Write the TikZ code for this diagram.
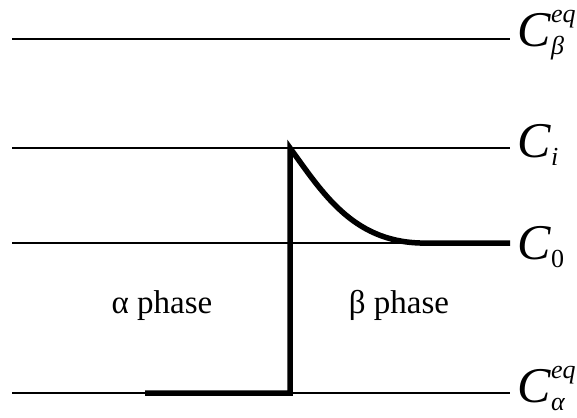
\documentclass[tikz,border=0pt]{standalone}
\usepackage{fontspec}
\setmainfont{Liberation Serif}
\usepackage{tikz}
\usetikzlibrary{positioning, calc}

\newcommand{\scrsize}{\fontsize{26}{28}\selectfont}
% C with subscript (#1) and superscript (#2)
\newcommand{\conclbl}[2]{\textit{C}\rlap{\raisebox{24pt}{\scrsize #2}}\raisebox{-8pt}{\scrsize #1}}

\tikzset{
  level/.style={line width=1.8pt},
  profile/.style={line width=5.5pt, line join=miter},
  conc/.style={anchor=base west, inner sep=0pt, font=\fontsize{50}{54}\selectfont},
  phasetext/.style={anchor=base, inner sep=0pt, font=\fontsize{33}{36}\selectfont}
}

\begin{document}
\begin{tikzpicture}[x=1pt, y=-1pt]
  \useasboundingbox (0,0) rectangle (577,417);

  % concentration levels
  \coordinate (Bs) at (12,39);
  \coordinate (Be) at (510,39);
  \coordinate (Is) at (12,148);
  \coordinate (Ie) at (510,148);
  \coordinate (Zs) at (12,243);
  \coordinate (Ze) at (510,243);
  \coordinate (As) at (12,393);
  \coordinate (Ae) at (510,393);

  \draw[level] (Bs) -- (Be);
  \draw[level] (Is) -- (Ie);
  \draw[level] (Zs) -- (Ze);
  \draw[level] (As) -- (Ae);

  \node[conc] (Cbeta) at ($(Be)+(7,8)$) {\conclbl{\textit{β}}{\textit{eq}}};
  \node[conc] (Ci) at ($(Ie)+(7,9)$) {\conclbl{\textit{i}}{}};
  \node[conc] (C0) at ($(Ze)+(7,16)$) {\conclbl{0}{}};
  \node[conc] (Calpha) at ($(Ae)+(7,9)$) {\conclbl{\textit{α}}{\textit{eq}}};

  % interface and profile
  \coordinate (P1) at (145,393);
  \coordinate (P2) at (290,393);
  \coordinate (P3) at (290,148);
  \coordinate (P4) at (420,243);
  \draw[profile] (P1) -- (P2) -- (P3)
    .. controls (322,192) and (352,241) .. (P4) -- (Ze);

  \node[phasetext] (alpha) at (162,313) {α phase};
  \node[phasetext] (beta) at (399,313) {β phase};
\end{tikzpicture}
\end{document}
